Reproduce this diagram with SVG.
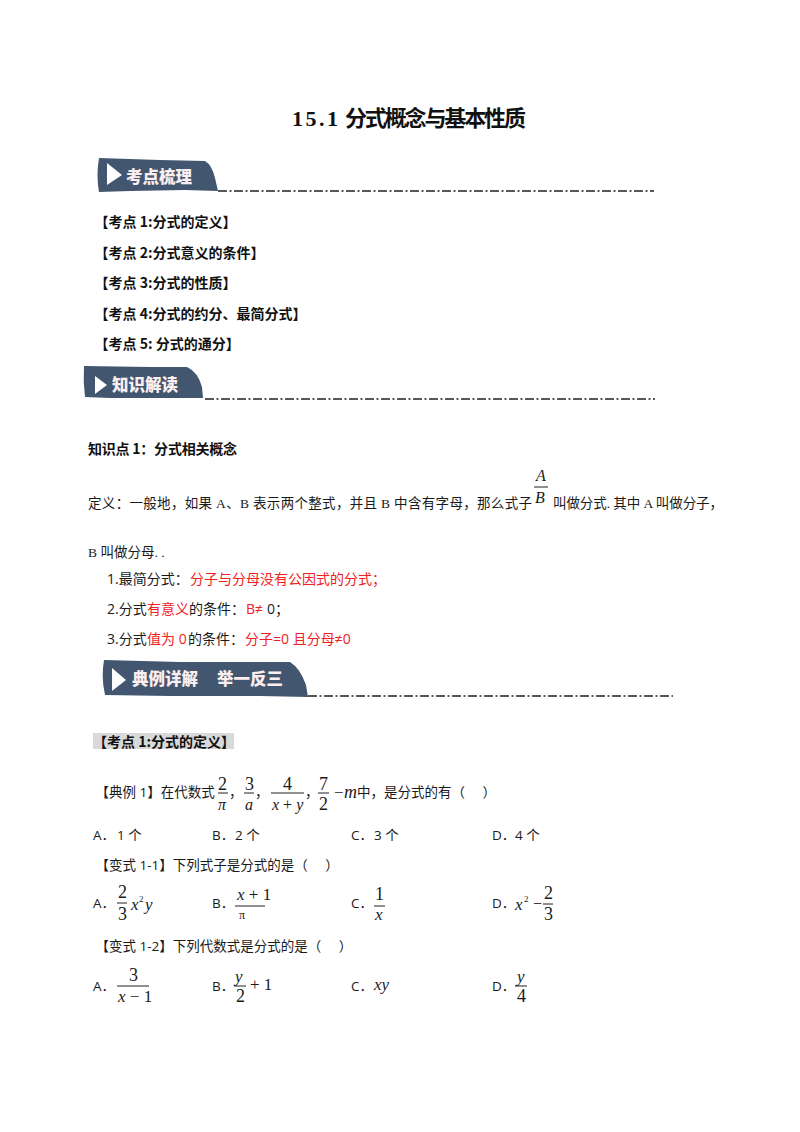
<svg xmlns="http://www.w3.org/2000/svg" width="800" height="1132" viewBox="0 0 800 1132">
<style>
text{font-family:"Open Sans","Noto Sans CJK SC",sans-serif;fill:#1a1a1a;font-size:13.5px}
.b{font-family:"Noto Sans CJK SC",sans-serif;font-weight:700;font-size:14px;fill:#111}
.d{font-family:"Liberation Serif","Noto Sans CJK SC",serif;font-weight:400;font-size:13.5px}
.l{font-size:14px}
.r{fill:#f02020}
.m{font-family:"Liberation Serif",serif}
.i{font-style:italic}
.bn{fill:#43566f}
.w{fill:#fff}
.bt{font-family:"Noto Sans CJK SC",sans-serif;fill:#fbeeee;font-weight:900;font-size:16.5px}
.dash{stroke:#222;stroke-width:1.4;stroke-dasharray:9 2.500 2 2.500;fill:none}
.f{stroke:#222;stroke-width:1;fill:none}
.s18{font-size:18px}
.s17{font-size:17px}
.s16{font-size:16px}
.s9{font-size:9px}
</style>
<rect width="800" height="1132" fill="#fff"/>
<text x="292" y="126" textLength="46" style="font-family:'Liberation Serif',serif;font-weight:700;font-size:22px;fill:#111">15.1</text>
<text x="345" y="126" textLength="181" style="font-family:'Noto Sans CJK SC',sans-serif;font-weight:700;font-size:22px;fill:#111">分式概念与基本性质</text>

<path class="bn" d="M99 158 L160 160 L205 161 Q212 165 215 178 L218 191 L185 190 L130 191 L99 192 Q96 175 99 158Z"/>
<path class="w" d="M107 163 L122 175 L107 185Z"/>
<text class="bt" x="126" y="183">考点梳理</text>
<path class="dash" d="M218 191H654"/>

<text class="b" x="94.500" y="227">【考点 1:分式的定义】</text>
<text class="b" x="94.500" y="258">【考点 2:分式意义的条件】</text>
<text class="b" x="94.500" y="288">【考点 3:分式的性质】</text>
<text class="b" x="94.500" y="319">【考点 4:分式的约分、最简分式】</text>
<text class="b" x="94.500" y="349">【考点 5: 分式的通分】</text>

<path class="bn" d="M84 366 L150 367 L187 367 Q198 372 202 387 L203 398 L160 398 L110 398 L85 397 Q83 382 84 366Z"/>
<path class="w" d="M95 376 L107 385 L95 394Z"/>
<text class="bt" x="112" y="391">知识解读</text>
<path class="dash" d="M205 399H655"/>

<text class="b" x="88" y="454" textLength="149">知识点 1&#65306;分式相关概念</text>
<text class="d" x="88" y="508" textLength="444">定义&#65306;一般地&#65292;如果 A、B 表示两个整式&#65292;并且 B 中含有字母&#65292;那么式子</text>
<text class="m i s16" x="536" y="481">A</text>
<path class="f" d="M534 487H548"/>
<text class="m i s16" x="535" y="503">B</text>
<text class="d" x="553" y="508" textLength="170">叫做分式. 其中 A 叫做分子&#65292;</text>
<text class="d" x="88" y="557">B 叫做分母. .</text>
<text class="l" x="107" y="584">1.最简分式&#65306;<tspan class="r" x="190">分子与分母没有公因式的分式&#65307;</tspan></text>
<text class="l" x="107" y="614">2.分式<tspan class="r" x="147">有意义</tspan><tspan x="189">的条件&#65306;</tspan><tspan class="r" x="246">B≠</tspan><tspan x="267">0&#65307;</tspan></text>
<text class="l" x="107" y="644">3.分式<tspan class="r" x="147">值为 0</tspan><tspan x="188">的条件&#65306;</tspan><tspan class="r" x="245">分子=0 且分母≠0</tspan></text>

<path class="bn" d="M104 660 L180 662 L290 662 Q300 668 306 685 L308 697 L260 696 L170 696 L105 695 Q101 678 104 660Z"/>
<path class="w" d="M112 668 L126 680 L112 691Z"/>
<text class="bt" x="132" y="685">典例详解</text>
<text class="bt" x="217" y="685">举一反三</text>
<path class="dash" d="M308 696H673"/>

<rect x="93" y="733" width="141" height="16" fill="#d9d9d9"/>
<text class="b" x="93" y="747">【考点 1:分式的定义】</text>

<text x="95.500" y="797">【典例 1】在代数式</text>
<text class="m s18" x="218" y="790">2</text><path class="f" d="M218 793H228"/><text class="m i s16" x="218" y="810">π</text>
<text x="229" y="797">&#65292;</text>
<text class="m s18" x="245" y="790">3</text><path class="f" d="M244 793H254"/><text class="m i s16" x="245" y="810">a</text>
<text x="255" y="797">&#65292;</text>
<text class="m s18" x="283" y="790">4</text><path class="f" d="M271 793H304"/><text class="m i s16" x="272" y="810">x <tspan style="font-style:normal">+</tspan> y</text>
<text x="305" y="797">&#65292;</text>
<text class="m s18" x="319" y="790">7</text><path class="f" d="M318 793H329"/><text class="m s18" x="319" y="810">2</text>
<text class="m s17" x="334" y="798">−</text><text class="m i s18" x="344" y="798">m</text>
<text x="357" y="797">中&#65292;是分式的有&#65288;&#160;&#160;&#160;&#160;&#160;&#65289;</text>

<text x="93" y="840">A&#65294;</text><text x="117" y="840">1 个</text>
<text x="212" y="840">B&#65294;</text><text x="235" y="840">2 个</text>
<text x="351" y="840">C&#65294;</text><text x="374" y="840">3 个</text>
<text x="492" y="840">D&#65294;</text><text x="515" y="840">4 个</text>

<text x="95.500" y="870">【变式 1-1】下列式子是分式的是&#65288;&#160;&#160;&#160;&#160;&#160;&#65289;</text>
<text x="93" y="908">A&#65294;</text>
<text class="m s18" x="118" y="898">2</text><path class="f" d="M117 903H127"/><text class="m s18" x="118" y="920">3</text>
<text class="m i s17" x="131" y="910">x</text><text class="m s9" x="139" y="902">2</text><text class="m i s17" x="145" y="910">y</text>
<text x="212" y="908">B&#65294;</text>
<text class="m i s17" x="237" y="900">x<tspan style="font-style:normal"> + 1</tspan></text><path class="f" d="M235 906H265"/><text class="m" x="239" y="919" style="font-size:12px">π</text>
<text x="351" y="908">C&#65294;</text>
<text class="m s18" x="375" y="900">1</text><path class="f" d="M374 906H385"/><text class="m i s17" x="375" y="920">x</text>
<text x="492" y="908">D&#65294;</text>
<text class="m i s17" x="515" y="910">x</text><text class="m s9" x="524" y="902">2</text><text class="m s16" x="533" y="909">−</text>
<text class="m s18" x="544" y="899">2</text><path class="f" d="M543 904H553"/><text class="m s18" x="544" y="920">3</text>

<text x="95.500" y="951">【变式 1-2】下列代数式是分式的是&#65288;&#160;&#160;&#160;&#160;&#160;&#65289;</text>
<text x="93" y="991">A&#65294;</text>
<text class="m s18" x="129" y="981">3</text><path class="f" d="M117 986H149"/><text class="m i s17" x="118" y="1002">x<tspan style="font-style:normal"> − 1</tspan></text>
<text x="212" y="991">B&#65294;</text>
<text class="m i s17" x="235" y="982">y</text><path class="f" d="M234 986H246"/><text class="m s18" x="236" y="1002">2</text><text class="m s17" x="250" y="990">+ 1</text>
<text x="351" y="991">C&#65294;</text>
<text class="m i s17" x="374" y="990">xy</text>
<text x="492" y="991">D&#65294;</text>
<text class="m i s17" x="517" y="982">y</text><path class="f" d="M515 986H527"/><text class="m s18" x="517" y="1002">4</text>
</svg>
